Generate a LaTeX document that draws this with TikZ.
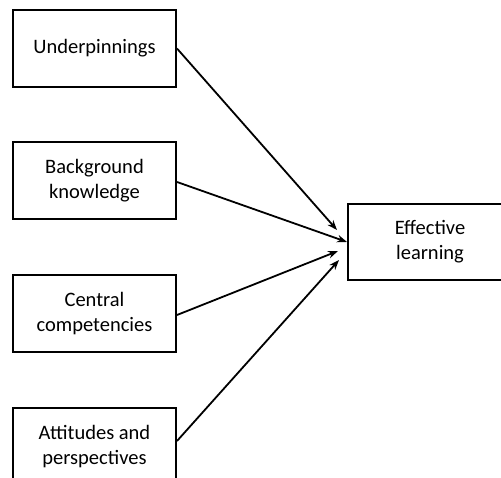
\documentclass[tikz,border=0pt]{standalone}
\usepackage{fontspec}
\setmainfont{Carlito}
\usetikzlibrary{arrows.meta}
\begin{document}
\begin{tikzpicture}[x=1pt,y=-1pt,
  txt/.style={align=center, inner sep=0pt, font=\fontsize{20.5}{25}\selectfont},
  box/.style={draw, line width=2pt, minimum width=163pt, minimum height=77pt, txt},
  conn/.style={line width=1.8pt, -{Stealth[length=10pt,width=7.5pt]}}]
\useasboundingbox (0,0) rectangle (501,478);
\begin{scope}
\clip (0,0) rectangle (501,478);
\node[box] (u) at (94.5,48.5) {\raisebox{-2pt}{Underpinnings}};
\node[box] (b) at (94.5,181) {Background\\knowledge};
\node[box] (c) at (94.5,314) {Central\\competencies};
\node[box, minimum height=78pt] (a) at (94.5,447) {Attitudes and\\perspectives};
\node[draw, line width=2pt, minimum width=190pt, minimum height=76pt, inner sep=0pt] (e) at (443,242) {};
\node[txt] (el) at (430,242) {Effective\\learning};
\coordinate (t1) at (337,230);
\coordinate (t3) at (338,251);
\coordinate (t4) at (339,260);
\draw[conn] (u.east) -- (t1);
\draw[conn] ([yshift=-1pt]b.east) -- (e.west);
\draw[conn] ([yshift=-1pt]c.east) -- (t3);
\draw[conn] ([yshift=6pt]a.east) -- (t4);
\end{scope}
\end{tikzpicture}
\end{document}
